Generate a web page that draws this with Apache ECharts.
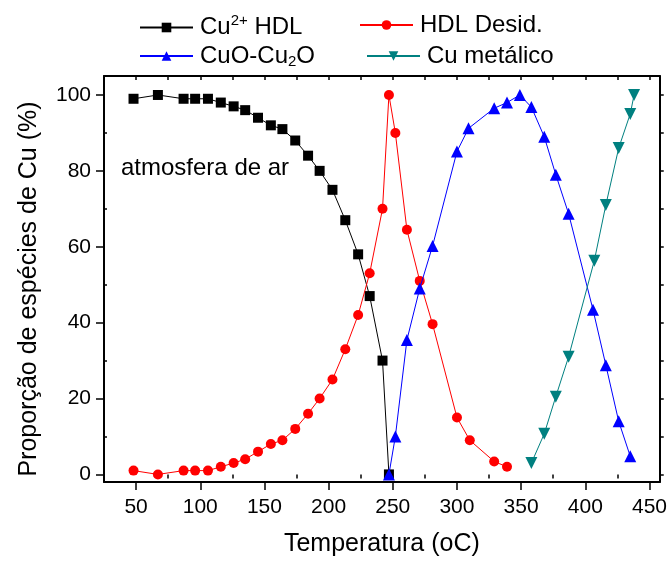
<!DOCTYPE html>
<html>
<head>
<meta charset="utf-8">
<script src="https://cdn.jsdelivr.net/npm/echarts@6/dist/echarts.min.js"></script>
<style>html,body{margin:0;padding:0;background:#fff}#c{width:670px;height:562px}</style>
</head>
<body>
<div id="c"></div>
<script>
// ---- data ----
var hdlTemp = [48, 67, 87, 96, 106, 116, 126, 135, 145, 155, 164, 174, 184, 193, 203, 213, 223, 232, 242, 247];
var hdlVal  = [99, 100, 99, 99, 99, 98, 97, 96, 94, 92, 91, 88, 84, 80, 75, 67, 58, 47, 30, 0];

var desTemp = [48, 67, 87, 96, 106, 116, 126, 135, 145, 155, 164, 174, 184, 193, 203, 213, 223, 232, 242, 247, 252, 261, 271, 281, 300, 310, 329, 339];
var desVal  = [1, 0, 1, 1, 1, 2, 3, 4, 6, 8, 9, 12, 16, 20, 25, 33, 42, 53, 70, 100, 90, 64.5, 51, 39.6, 15, 9, 3.4, 2];

var oxTemp = [247, 252, 261, 271, 281, 300, 309, 329, 339, 349, 358, 368, 377, 387, 406, 416, 426, 435];
var oxVal  = [0, 10, 35.4, 49, 60.2, 85.1, 91.2, 96.5, 98, 100, 96.8, 89, 79, 68.7, 43.4, 28.8, 14, 4.8];

var metTemp = [358, 368, 377, 387, 407, 416, 426, 435, 438];
var metVal  = [3, 10.7, 20.5, 31, 56.3, 71, 86, 95, 100];

var xMajor = [50, 100, 150, 200, 250, 300, 350, 400, 450];
var xMinor = [75, 125, 175, 225, 275, 325, 375, 425];
var xAll   = [50, 75, 100, 125, 150, 175, 200, 225, 250, 275, 300, 325, 350, 375, 400, 425, 450];
var yMajor = [0, 20, 40, 60, 80, 100];
var yMinor = [10, 30, 50, 70, 90];
var yAll   = [0, 10, 20, 30, 40, 50, 60, 70, 80, 90, 100];

var names = ['Cu2+ HDL', 'HDL Desid.', 'CuO-Cu2O', 'Cu metálico'];

function pairs(xs, ys) { return xs.map(function (x, i) { return [x, ys[i]]; }); }

var FONT = '"Liberation Sans", Arial, sans-serif';
var X_MIN = 25, X_MAX = 458, Y_MIN = -2, Y_MAX = 105;

var chart = echarts.init(document.getElementById('c'), null, { renderer: 'canvas' });

function legendFmt(name) {
  if (name === 'Cu2+ HDL') return '{n|Cu}{sup|2+}{n| HDL}';
  if (name === 'CuO-Cu2O') return '{n|CuO-Cu}{sub|2}{n|O}';
  return '{n|' + name + '}';
}
var legendRich = {
  n: { fontSize: 24, fontFamily: FONT, color: '#000' },
  sup: { fontSize: 15, fontFamily: FONT, color: '#000', padding: [0, 0, 14, 0] },
  sub: { fontSize: 15, fontFamily: FONT, color: '#000', padding: [12, 0, 0, 0] }
};
function mkLegend(name, left, top) {
  return {
    data: [name], left: left, top: top, itemWidth: 53, itemHeight: 12, itemGap: 0,
    padding: 0, formatter: legendFmt, selectedMode: false,
    textStyle: { rich: legendRich, fontSize: 24, fontFamily: FONT, color: '#000', padding: [0, 0, 0, 2] }
  };
}

var lineStyle = { width: 1 };
var option = {
  backgroundColor: '#fff',
  animation: false,
  textStyle: { fontFamily: FONT },
  grid: { left: 104, top: 76, right: 9, bottom: 75, containLabel: false },
  legend: [
    mkLegend(names[0], 139, 13),
    mkLegend(names[1], 359, 13),
    mkLegend(names[2], 139, 44),
    mkLegend(names[3], 366, 44)
  ],
  xAxis: [
    {
      type: 'value', min: X_MIN, max: X_MAX, position: 'bottom',
      name: 'Temperatura (oC)', nameLocation: 'middle', nameGap: 50,
      nameTextStyle: { fontSize: 25, fontFamily: FONT, color: '#000' },
      axisLine: { onZero: false, lineStyle: { color: '#000', width: 2 } },
      axisTick: { customValues: xMajor, length: 8, lineStyle: { color: '#000', width: 1.5 } },
      axisLabel: { customValues: xMajor, fontSize: 21, fontFamily: FONT, color: '#000', margin: 15 },
      splitLine: { show: false }
    },
    {
      type: 'value', min: X_MIN, max: X_MAX, position: 'bottom',
      axisLine: { show: false },
      axisTick: { customValues: xMinor, length: 4, lineStyle: { color: '#000', width: 1.5 } },
      axisLabel: { show: false }, splitLine: { show: false }
    },
    {
      type: 'value', min: X_MIN, max: X_MAX, position: 'top',
      axisLine: { onZero: false, lineStyle: { color: '#000', width: 2 } },
      axisTick: { customValues: xAll, inside: true, length: 4, lineStyle: { color: '#000', width: 1.5 } },
      axisLabel: { show: false }, splitLine: { show: false }
    }
  ],
  yAxis: [
    {
      type: 'value', min: Y_MIN, max: Y_MAX, position: 'left',
      name: 'Proporção de espécies de Cu (%)', nameLocation: 'middle', nameGap: 62,
      nameTextStyle: { fontSize: 25, fontFamily: FONT, color: '#000', padding: [0, 0, 0, -20] },
      axisLine: { onZero: false, lineStyle: { color: '#000', width: 2 } },
      axisTick: { customValues: yMajor, length: 8, lineStyle: { color: '#000', width: 1.5 } },
      axisLabel: { customValues: yMajor, fontSize: 21, fontFamily: FONT, color: '#000', margin: 13 },
      splitLine: { show: false }
    },
    {
      type: 'value', min: Y_MIN, max: Y_MAX, position: 'left',
      axisLine: { show: false },
      axisTick: { customValues: yMinor, inside: true, length: 3, lineStyle: { color: '#000', width: 1.5 } },
      axisLabel: { show: false }, splitLine: { show: false }
    },
    {
      type: 'value', min: Y_MIN, max: Y_MAX, position: 'right',
      axisLine: { onZero: false, lineStyle: { color: '#000', width: 2 } },
      axisTick: { customValues: yAll, length: 4, lineStyle: { color: '#000', width: 1.5 } },
      axisLabel: { show: false }, splitLine: { show: false }
    }
  ],
  graphic: [
    {
      type: 'text', left: 121, top: 156, silent: true,
      style: { text: 'atmosfera de ar', fontSize: 24, fontFamily: FONT, fill: '#000' }
    }
  ],
  series: [
    {
      name: names[0], type: 'line', xAxisIndex: 0, yAxisIndex: 0,
      data: pairs(hdlTemp, hdlVal), symbol: 'rect', symbolSize: 10,
      color: '#000000', lineStyle: lineStyle, itemStyle: { color: '#000000' }, z: 3
    },
    {
      name: names[1], type: 'line', xAxisIndex: 0, yAxisIndex: 0,
      data: pairs(desTemp, desVal), symbol: 'circle', symbolSize: 10,
      color: '#ff0000', lineStyle: lineStyle, itemStyle: { color: '#ff0000' }, z: 4
    },
    {
      name: names[2], type: 'line', xAxisIndex: 0, yAxisIndex: 0,
      data: pairs(oxTemp, oxVal), symbol: 'triangle', symbolSize: 12,
      color: '#0000ff', lineStyle: lineStyle, itemStyle: { color: '#0000ff' }, z: 5
    },
    {
      name: names[3], type: 'line', xAxisIndex: 0, yAxisIndex: 0,
      data: pairs(metTemp, metVal), symbol: 'triangle', symbolRotate: 180, symbolSize: 12,
      color: '#008080', lineStyle: lineStyle, itemStyle: { color: '#008080' }, z: 6
    }
  ]
};
chart.setOption(option);
</script>
</body>
</html>
